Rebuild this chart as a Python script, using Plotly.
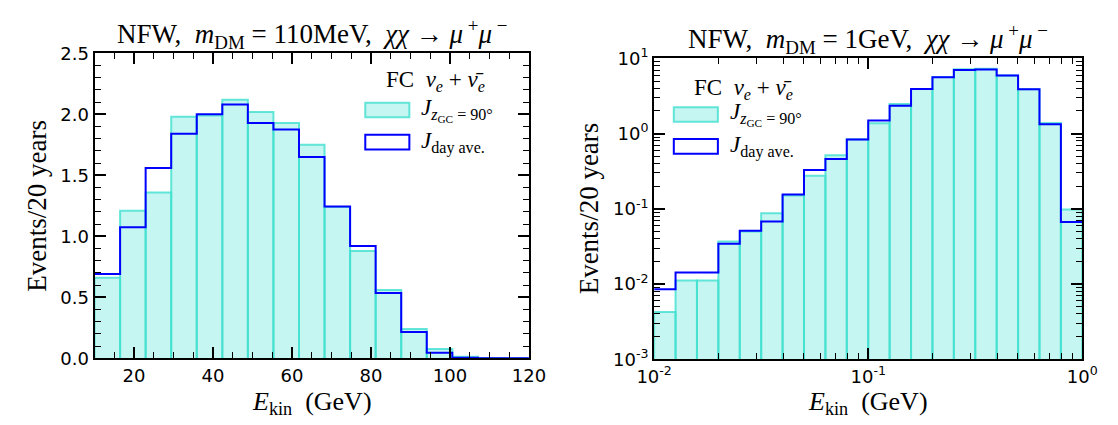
import numpy as np
import plotly.graph_objects as go

# ---- data -------------------------------------------------------------
# Left panel: m_DM = 110 MeV, linear kinetic-energy bins (GeV)
e_lo_left, e_hi_left, n_left = 10.0, 120.0, 17
events_zgc90_left = [0.66, 1.21, 1.36, 1.98, 1.99, 2.12, 2.02, 1.93, 1.75, 1.24,
                     0.88, 0.56, 0.24, 0.075, 0.012, 0.003, 0.001]
events_dayave_left = [0.69, 1.075, 1.56, 1.84, 2.00, 2.08, 1.93, 1.875, 1.65, 1.245,
                      0.92, 0.535, 0.215, 0.046, 0.004, 0.001, 0.0005]

# Right panel: m_DM = 1 GeV, log-spaced kinetic-energy bins (GeV)
logE_lo_right, logE_hi_right, n_right = -2.0, 0.0, 20
events_zgc90_right = [0.00425, 0.0111, 0.0111, 0.0366, 0.050, 0.0873, 0.150, 0.275,
                      0.516, 0.84, 1.37, 2.47, 3.92, 5.66, 7.2, 7.3, 5.94, 3.88,
                      1.38, 0.098]
events_dayave_right = [0.00853, 0.0142, 0.0142, 0.0343, 0.0509, 0.0679, 0.1545, 0.328,
                       0.46, 0.836, 1.49, 2.35, 3.92, 5.6, 7.0, 7.1, 5.94, 3.88,
                       1.33, 0.0667]

left_xticks = [20, 40, 60, 80, 100, 120]
right_xticks = [1e-2, 1e-1, 1e0]
right_xticktext = ["10<sup>-2</sup>", "10<sup>-1</sup>", "10<sup>0</sup>"]
right_yticks = [1e-3, 1e-2, 1e-1, 1e0, 1e1]
right_yticktext = ["10<sup>-3</sup>", "10<sup>-2</sup>", "10<sup>-1</sup>",
                   "10<sup>0</sup>", "10<sup>1</sup>"]

title_left = ("NFW,  <i>m</i><sub>DM</sub> = 110MeV,  <i>χχ</i> → "
              "<i>μ</i><sup> +</sup><i>μ</i><sup> −</sup>")
title_right = ("NFW,  <i>m</i><sub>DM</sub> = 1GeV,  <i>χχ</i> → "
               "<i>μ</i><sup> +</sup><i>μ</i><sup> −</sup>")
legend_title = "FC  <i>ν<sub>e</sub></i> + <i>ν̄<sub>e</sub></i>"
label_zgc90 = "<i>J</i><sub><i>z</i><sub>GC</sub> = 90°</sub>"
label_dayave = "<i>J</i><sub>day ave.</sub>"
y_title = "Events/20 years"
x_title = "<i>E</i><sub>kin</sub>  (GeV)"

# ---- styling ----------------------------------------------------------
FILL = "rgba(64,224,208,0.30)"
EDGE = "rgba(64,224,208,0.80)"
BLUE = "#0000FF"
SERIF = "Liberation Serif"
SANS = "DejaVu Sans"
W, H = 1118, 425


def bar_polygons(edges, values, base):
    xs, ys = [], []
    for i, v in enumerate(values):
        xs += [edges[i], edges[i], edges[i + 1], edges[i + 1], None]
        ys += [base, v, v, base, None]
    return xs, ys


def step_line(edges, values):
    return list(edges), list(values) + [values[-1]]


edges_left = np.linspace(e_lo_left, e_hi_left, n_left + 1)
edges_right = np.logspace(logE_lo_right, logE_hi_right, n_right + 1)

fig = go.Figure()

for edges, cyan, blue, base, xa, ya in [
    (edges_left, events_zgc90_left, events_dayave_left, 0.0, "x", "y"),
    (edges_right, events_zgc90_right, events_dayave_right, 1e-3, "x2", "y2"),
]:
    bx, by = bar_polygons(edges, cyan, base)
    fig.add_trace(go.Scatter(x=bx, y=by, mode="lines", fill="toself", fillcolor=FILL,
                             line=dict(color=EDGE, width=2), xaxis=xa, yaxis=ya,
                             hoverinfo="skip", showlegend=False))
    sx, sy = step_line(edges, blue)
    fig.add_trace(go.Scatter(x=sx, y=sy, mode="lines", line_shape="hv",
                             line=dict(color=BLUE, width=2), xaxis=xa, yaxis=ya,
                             showlegend=False))

common = dict(showline=True, linecolor="black", linewidth=2, mirror="allticks",
              ticks="inside", ticklen=11, tickwidth=1.5, tickcolor="black",
              showgrid=False, zeroline=False,
              tickfont=dict(family=SANS, size=18, color="black"))
minor_lin = dict(ticks="inside", ticklen=6, tickwidth=1, tickcolor="black", showgrid=False)

log_minor_vals = [k * 10.0 ** d for d in range(-4, 2) for k in range(2, 10)]

# panel boxes in pixels: (left, right, top, bottom)
box_l = (79, 527.5, 42.7, 365)
box_r = (656.7, 1098.7, 48, 366)


def xdom(b):
    return [b[0] / W, b[1] / W]


def ydom(b):
    return [1 - b[3] / H, 1 - b[2] / H]


fig.update_layout(
    width=W, height=H, margin=dict(l=0, r=0, t=0, b=0),
    paper_bgcolor="white", plot_bgcolor="white", showlegend=False,
    xaxis=dict(domain=xdom(box_l), range=[10, 120], tickmode="array", tickvals=left_xticks,
               minor=dict(dtick=5, tick0=0, **minor_lin), anchor="y", **common),
    yaxis=dict(domain=ydom(box_l), range=[0, 2.5], dtick=0.5, tick0=0, tickformat=".1f",
               minor=dict(dtick=0.1, tick0=0, **minor_lin), anchor="x", **common),
    xaxis2=dict(domain=xdom(box_r), type="log", range=[-2, 0], tickmode="array",
                tickvals=right_xticks, ticktext=right_xticktext,
                minor=dict(tickmode="array", tickvals=log_minor_vals, **minor_lin),
                anchor="y2", **common),
    yaxis2=dict(domain=ydom(box_r), type="log", range=[-3, 1], tickmode="array",
                tickvals=right_yticks, ticktext=right_yticktext,
                minor=dict(tickmode="array", tickvals=log_minor_vals, **minor_lin),
                anchor="x2", **common),
)

ann = []
shapes = []


def px_ann(x, y, text, size, xanchor="center", yanchor="middle", angle=0):
    ann.append(dict(x=x / W, y=1 - y / H, xref="paper", yref="paper", text=text,
                    showarrow=False, xanchor=xanchor, yanchor=yanchor, textangle=angle,
                    borderpad=0, font=dict(family=SERIF, size=size, color="black")))


def px_rect(x0, x1, y0, y1, fill, line):
    shapes.append(dict(type="rect", xref="paper", yref="paper",
                       x0=x0 / W, x1=x1 / W, y0=1 - y1 / H, y1=1 - y0 / H,
                       fillcolor=fill, line=dict(color=line, width=2)))


for box, title in [(box_l, title_left), (box_r, title_right)]:
    cx = (box[0] + box[1]) / 2
    px_ann(cx, box[2] - 21, title, 27)
    px_ann(cx, 412.5, x_title, 26)

px_ann(19.5, (box_l[2] + box_l[3]) / 2, y_title, 27, angle=-90)
px_ann(589, (box_r[2] + box_r[3]) / 2, y_title, 27, angle=-90)

# legends: (swatch left, title y, cyan y, blue y, label x, title centre x)
for (sx0, ty, ycy, ycb, tx, tcx) in [
    (358.5, 72, 102.5, 136.5, 415, 431),
    (677, 80, 107.3, 141, 734, 748.5),
]:
    px_ann(tcx, ty, legend_title, 23)
    px_rect(sx0, sx0 + 45.5, ycy - 7.7, ycy + 7.7, FILL, EDGE)
    px_rect(sx0, sx0 + 45.5, ycb - 7.7, ycb + 7.7, "white", BLUE)
    px_ann(tx, ycy, label_zgc90, 23, xanchor="left")
    px_ann(tx, ycb, label_dayave, 23, xanchor="left")

fig.update_layout(annotations=ann, shapes=shapes)
fig.write_html("out.html")
